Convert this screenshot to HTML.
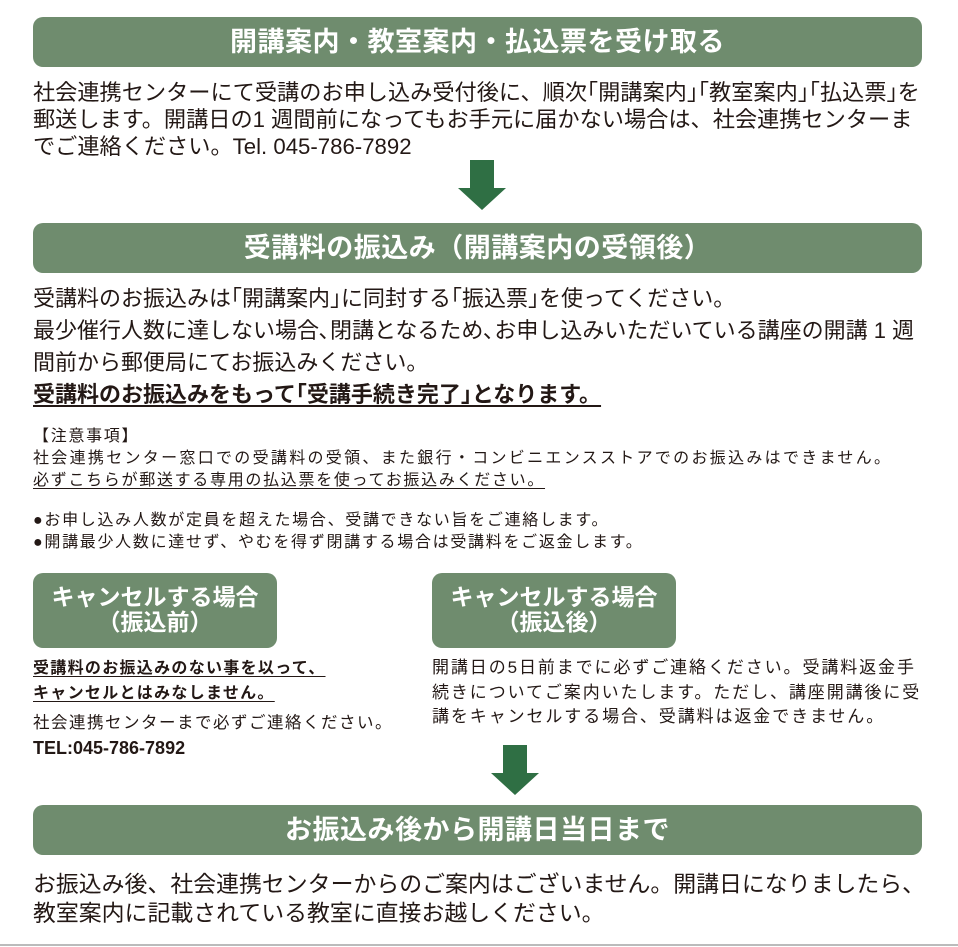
<!DOCTYPE html>
<html><head><meta charset="utf-8"><style>
body{margin:0;width:958px;height:947px;background:#fff;position:relative;overflow:hidden;font-family:"Liberation Sans","Noto Sans CJK JP",sans-serif;color:#231815}
.bar{position:absolute;left:33px;width:889px;height:50px;background:#6f8c6e;border-radius:10px;color:#fff;font-size:27px;font-weight:bold;text-align:center;line-height:50px;letter-spacing:0.5px}
.t{position:absolute;left:33px;white-space:nowrap}
.big{font-size:22.2px;line-height:27px}
.mid{font-size:22px;line-height:32px}
.sm{font-size:16px;line-height:22px;letter-spacing:1.7px}
.sb{position:absolute;top:573px;width:244px;height:75px;background:#6f8c6e;border-radius:10px;color:#fff;font-size:23px;font-weight:bold;text-align:center;line-height:25px;padding-top:12px;box-sizing:border-box}
.u{text-decoration:underline;text-underline-offset:3px}
</style></head><body>
<div class="bar" style="top:17px">開講案内・教室案内・払込票を受け取る</div>
<div class="t big" style="top:79px">社会連携センターにて受講のお申し込み受付後に、順次｢開講案内｣｢教室案内｣｢払込票｣を<br>郵送します。開講日の1 週間前になってもお手元に届かない場合は、社会連携センターま<br>でご連絡ください。Tel. 045-786-7892</div>
<svg style="position:absolute;left:456px;top:160px" width="52" height="52"><polygon points="14,0 38,0 38,28 50,28 26,50 2,28 14,28" fill="#2f6f44"/></svg>
<div class="bar" style="top:223px">受講料の振込み（開講案内の受領後）</div>
<div class="t mid" style="top:283px">受講料のお振込みは｢開講案内｣に同封する｢振込票｣を使ってください。<br>最少催行人数に達しない場合､閉講となるため､お申し込みいただいている講座の開講 1 週<br>間前から郵便局にてお振込みください。<br><b class="u">受講料のお振込みをもって｢受講手続き完了｣となります。</b></div>
<div class="t sm" style="top:426px">【注意事項】<br><span style="letter-spacing:2.3px">社会連携センター窓口での受講料の受領、また銀行・コンビニエンスストアでのお振込みはできません。</span><br><span class="u">必ずこちらが郵送する専用の払込票を使ってお振込みください。</span></div>
<div class="t sm" style="top:510px">●お申し込み人数が定員を超えた場合、受講できない旨をご連絡します。<br>●開講最少人数に達せず、やむを得ず閉講する場合は受講料をご返金します。</div>
<div class="sb" style="left:33px">キャンセルする場合<br>（振込前）</div>
<div class="sb" style="left:432px">キャンセルする場合<br>（振込後）</div>
<div class="t" style="top:656px;font-size:16px;letter-spacing:1.3px;line-height:25px"><b class="u">受講料のお振込みのない事を以って、<br>キャンセルとはみなしません。</b></div>
<div class="t" style="top:709px;font-size:16.5px;letter-spacing:1.5px">社会連携センターまで必ずご連絡ください。</div>
<div class="t" style="top:738px;font-size:18px;font-weight:bold">TEL:045-786-7892</div>
<div class="t" style="left:432px;top:656px;font-size:17px;letter-spacing:1.9px;line-height:24.5px">開講日の5日前までに必ずご連絡ください。受講料返金手<br>続きについてご案内いたします。ただし、講座開講後に受<br>講をキャンセルする場合、受講料は返金できません。</div>
<svg style="position:absolute;left:489px;top:745px" width="52" height="52"><polygon points="14,0 38,0 38,28 50,28 26,50 2,28 14,28" fill="#2f6f44"/></svg>
<div class="bar" style="top:805px">お振込み後から開講日当日まで</div>
<div class="t big" style="top:870px;line-height:29px;font-size:22.9px">お振込み後、社会連携センターからのご案内はございません。開講日になりましたら、<br>教室案内に記載されている教室に直接お越しください。</div>
<div style="position:absolute;left:0;top:944px;width:958px;height:2px;background:#bbb"></div>
</body></html>
